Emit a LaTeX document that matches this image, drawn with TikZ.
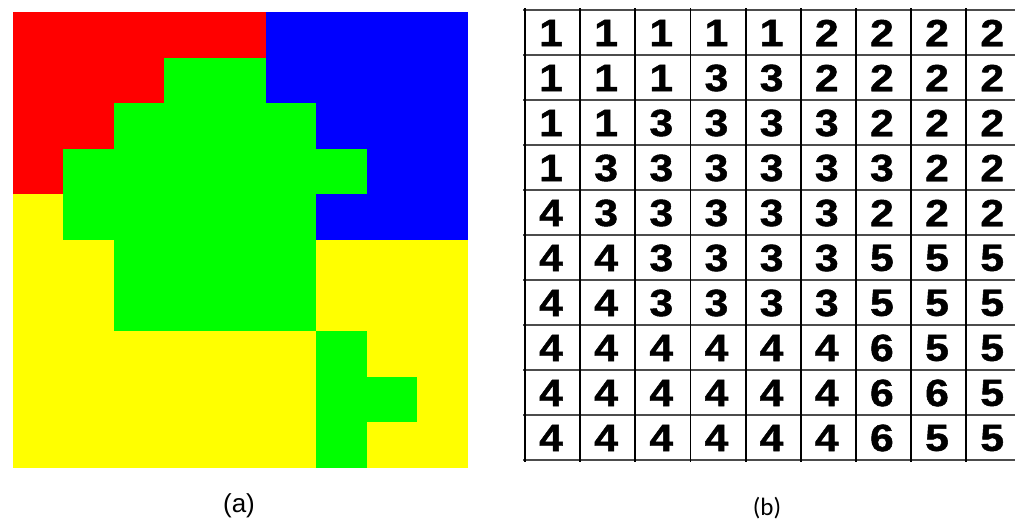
\documentclass[tikz,border=0pt]{standalone}
\usepackage{fontspec}
\setmainfont{Liberation Sans}
\newfontfamily\capfont{Carlito}
\newfontfamily\digitfont[FakeBold=1.2]{Liberation Sans Bold}
\usetikzlibrary{positioning}
\definecolor{reg1}{HTML}{FF0000}
\definecolor{reg2}{HTML}{0000FF}
\definecolor{reg3}{HTML}{00FF00}
\definecolor{reg4}{HTML}{FFFF00}
\definecolor{reg5}{HTML}{FFFF00}
\definecolor{reg6}{HTML}{00FF00}

\begin{document}
\begin{tikzpicture}[
  x=1pt, y=-1pt,
  cell/.style={inner sep=0pt, font=\digitfont\fontsize{38}{38}\selectfont},
  hline/.style={draw=black!70, line width=2.4pt},
  vline/.style={draw=black, line width=1.8pt},
  caption/.style={inner sep=0pt, font=\fontsize{26}{26}\selectfont}
]
  \useasboundingbox[fill=white] (0,0) rectangle (1015,525);
  % region map: coloured cells on the left, labels on the right
  \foreach \r/\row in {0/{1,1,1,1,1,2,2,2,2}, 1/{1,1,1,3,3,2,2,2,2},
      2/{1,1,3,3,3,3,2,2,2}, 3/{1,3,3,3,3,3,3,2,2}, 4/{4,3,3,3,3,3,2,2,2},
      5/{4,4,3,3,3,3,5,5,5}, 6/{4,4,3,3,3,3,5,5,5}, 7/{4,4,4,4,4,4,6,5,5},
      8/{4,4,4,4,4,4,6,6,5}, 9/{4,4,4,4,4,4,6,5,5}} {
    \foreach \v [count=\c from 0] in \row {
      \fill[reg\v] (12.5+50.6*\c, 12+45.6*\r) rectangle ++(50.9,45.9);
      \node[cell] (n-\r-\c) at (551+55.15*\c, 33+45*\r) {\scalebox{1.12}[1]{\v}};
    }
  }
  \foreach \r in {0,...,10}
    \draw[hline] (523, 10+45*\r) -- (1015, 10+45*\r);
  \foreach \c in {0,...,8}
    \draw[vline] (525+55.15*\c, 8) -- (525+55.15*\c, 462);
  \node[caption] (capA) at (239,506) {(a)};
  \node[caption, font=\capfont\fontsize{25}{25}\selectfont] (capB) at (767,508) {(b)};
\end{tikzpicture}
\end{document}
